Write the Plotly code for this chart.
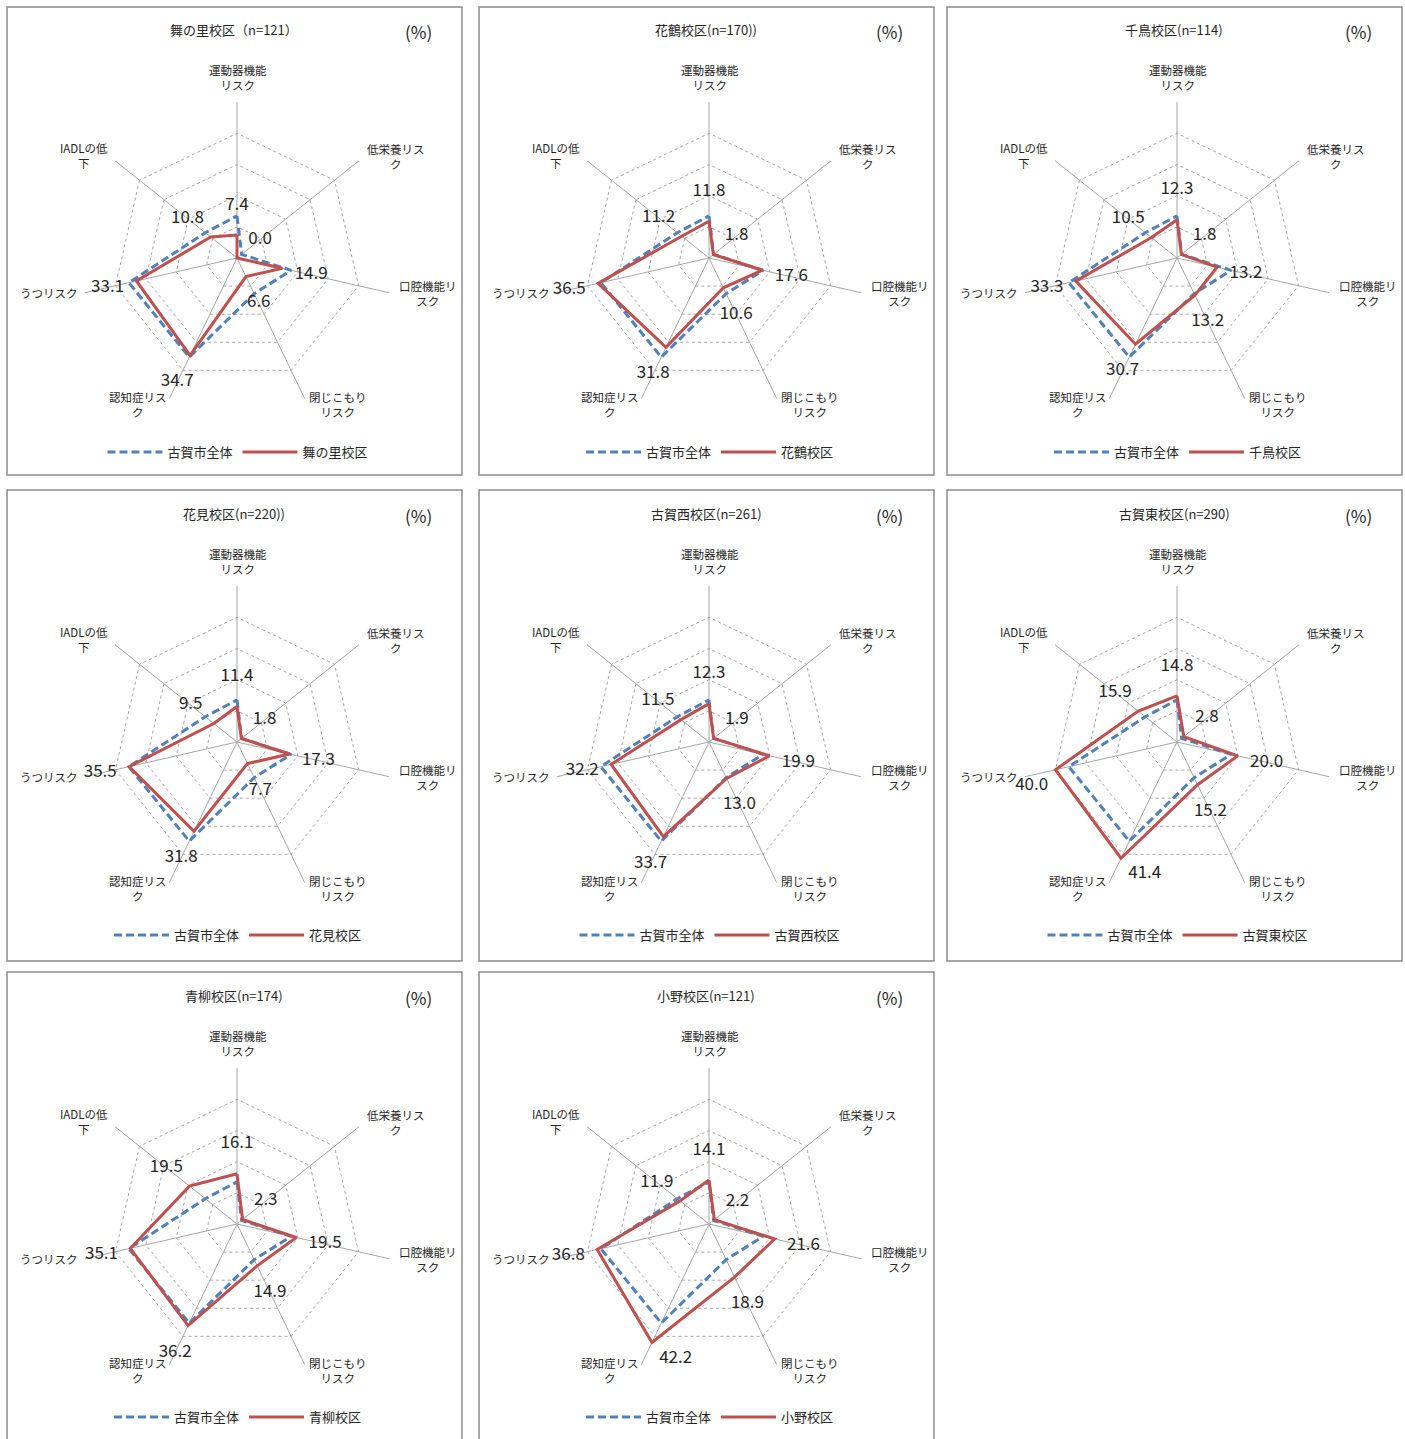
import math
import plotly.graph_objects as go

# ---- data -------------------------------------------------------------
categories = [
    "運動器機能<br>リスク",
    "低栄養リス<br>ク",
    "口腔機能リ<br>スク",
    "閉じこもり<br>リスク",
    "認知症リス<br>ク",
    "うつリスク",
    "IADLの低<br>下",
]

city_name = "古賀市全体"
city_values = [13.5, 1.9, 17.8, 12.7, 35.3, 35.6, 13.0]

district_names = ["舞の里校区", "花鶴校区", "千鳥校区", "花見校区",
                  "古賀西校区", "古賀東校区", "青柳校区", "小野校区"]
district_titles = ["舞の里校区（n=121）", "花鶴校区(n=170))", "千鳥校区(n=114)",
                   "花見校区(n=220))", "古賀西校区(n=261)", "古賀東校区(n=290)",
                   "青柳校区(n=174)", "小野校区(n=121)"]

maizato = [7.4, 0.0, 14.9, 6.6, 34.7, 33.1, 10.8]
kakaku = [11.8, 1.8, 17.6, 10.6, 31.8, 36.5, 11.2]
chidori = [12.3, 1.8, 13.2, 13.2, 30.7, 33.3, 10.5]
hanami = [11.4, 1.8, 17.3, 7.7, 31.8, 35.5, 9.5]
koga_nishi = [12.3, 1.9, 19.9, 13.0, 33.7, 32.2, 11.5]
koga_higashi = [14.8, 2.8, 20.0, 15.2, 41.4, 40.0, 15.9]
aoyagi = [16.1, 2.3, 19.5, 14.9, 36.2, 35.1, 19.5]
ono = [14.1, 2.2, 21.6, 18.9, 42.2, 36.8, 11.9]

district_values = [maizato, kakaku, chidori, hanami,
                   koga_nishi, koga_higashi, aoyagi, ono]

# ---- layout constants ---------------------------------------------------
W, H = 1405, 1439
R_PX = 156                      # radius of the outer ring in pixels
col_centers = [237, 709, 1177]
row_centers = [258, 742, 1224]
col_boxes = [(7, 462), (479, 934), (947, 1402)]
row_boxes = [(7, 475), (490, 961), (972, 1470)]

R_MAX = 50.05
LABEL_PAD = 9.5                 # distance of value labels beyond each point (in %)
VALUE_FONT = 17
CAT_FONT = 11.5

# placement of the spoke names relative to the outer vertex (pixels)
cat_xanchor = ["center", "left", "left", "left", "right", "right", "right"]
cat_yanchor = ["bottom", "middle", "middle", "middle", "middle", "middle", "middle"]
cat_dx = [1, 6, 8, 2, 0, -5, -5]
cat_dy = [-7, -4.5, 1, 5.5, 5.5, 0, -5]

BLUE = "#4F81BD"
RED = "#C0504D"
GRID = "#a6a6a6"
FONT = "Noto Sans CJK JP"
TEXT = "#262626"

N = len(categories)
PX_PER_UNIT = R_PX / R_MAX
X_LIMIT = R_PX * math.sin(math.radians(2 * 360 / N)) + 8
Y_LIMIT = R_PX * math.cos(math.radians(180 / N))


def fx(x):
    return x / W


def fy(y):
    return 1 - y / H


def closed(seq):
    return list(seq) + [seq[0]]


def value_label_layout(vals):
    """Labels sit outward along each spoke; those that would leave the
    plot area are tucked beside their point instead."""
    rs, positions = [], []
    for k, v in enumerate(vals):
        ang = math.radians(90 - k * 360 / N)
        rl = (v + LABEL_PAD) * PX_PER_UNIT
        x = rl * math.cos(ang)
        y = -rl * math.sin(ang)
        txt = f"{v:.1f}"
        half_w = (0.56 * (len(txt) - 1) + 0.27) * VALUE_FONT / 2
        half_h = 0.42 * VALUE_FONT
        if y + half_h > Y_LIMIT:
            rs.append(v)
            positions.append("bottom right")
        elif x - half_w < -X_LIMIT:
            rs.append(v)
            positions.append("bottom left")
        elif x + half_w > X_LIMIT:
            rs.append(v)
            positions.append("bottom right")
        else:
            rs.append(v + LABEL_PAD)
            positions.append("middle center")
    return rs, positions


fig = go.Figure()
layout_extra = {}
annotations = []
shapes = []

for i, (name, title, vals) in enumerate(zip(district_names, district_titles, district_values)):
    row, col = divmod(i, 3)
    cx, cy = col_centers[col], row_centers[row]
    sub = "polar" if i == 0 else f"polar{i + 1}"
    leg = "legend" if i == 0 else f"legend{i + 1}"

    fig.add_trace(go.Scatterpolar(
        r=closed(city_values), theta=closed(categories), mode="lines",
        name=city_name, line=dict(color=BLUE, width=3, dash="8px,4px"),
        subplot=sub, legend=leg, hoverinfo="skip",
    ))
    fig.add_trace(go.Scatterpolar(
        r=closed(vals), theta=closed(categories), mode="lines",
        name=name, line=dict(color=RED, width=3),
        subplot=sub, legend=leg, hoverinfo="skip",
    ))

    # value labels of the district series
    label_r, label_pos = value_label_layout(vals)
    fig.add_trace(go.Scatterpolar(
        r=label_r, theta=categories, mode="markers+text",
        marker=dict(size=10, color="rgba(0,0,0,0)"),
        text=[f"{v:.1f}" for v in vals],
        textfont=dict(family=FONT, size=VALUE_FONT, color=TEXT),
        textposition=label_pos, cliponaxis=False,
        showlegend=False, subplot=sub, hoverinfo="skip",
    ))

    layout_extra[sub] = dict(
        domain=dict(x=[fx(cx - R_PX), fx(cx + R_PX)],
                    y=[fy(cy + R_PX), fy(cy - R_PX)]),
        gridshape="linear",
        bgcolor="rgba(0,0,0,0)",
        radialaxis=dict(
            range=[0, R_MAX], tickvals=[10, 20, 30, 40, 50],
            showticklabels=False, ticks="", showline=False,
            showgrid=True, gridcolor=GRID, gridwidth=1, griddash="3px,3px",
        ),
        angularaxis=dict(
            type="category", categoryorder="array", categoryarray=categories,
            direction="clockwise", rotation=90,
            showline=False, ticks="", showticklabels=False,
            showgrid=True, gridcolor=GRID, gridwidth=1,
        ),
    )

    # spoke names, centred line by line beside each outer vertex
    for k, cat in enumerate(categories):
        a = math.radians(k * 360 / N)
        vx = cx + R_PX * math.sin(a)
        vy = cy - R_PX * math.cos(a)
        annotations.append(dict(
            text=cat, xref="paper", yref="paper",
            x=fx(vx + cat_dx[k]), y=fy(vy + cat_dy[k]),
            xanchor=cat_xanchor[k], yanchor=cat_yanchor[k], align="center",
            showarrow=False, font=dict(family=FONT, size=CAT_FONT, color=TEXT),
        ))

    bx0, bx1 = col_boxes[col]
    by0, by1 = row_boxes[row]
    shapes.append(dict(
        type="rect", xref="paper", yref="paper",
        x0=fx(bx0), x1=fx(bx1), y0=fy(by1), y1=fy(by0),
        line=dict(color="#8c8c8c", width=1.5), fillcolor="rgba(0,0,0,0)",
    ))

    annotations.append(dict(
        text=title, xref="paper", yref="paper", x=fx(cx - 3), y=fy(by0 + 23),
        xanchor="center", yanchor="middle", showarrow=False,
        font=dict(family=FONT, size=13, color=TEXT),
    ))
    annotations.append(dict(
        text="(%)", xref="paper", yref="paper", x=fx(cx + 181), y=fy(by0 + 25),
        xanchor="center", yanchor="middle", showarrow=False,
        font=dict(family=FONT, size=17, color=TEXT),
    ))

    layout_extra[leg] = dict(
        orientation="h", x=fx(cx + 1), y=fy(by0 + 445),
        xanchor="center", yanchor="middle",
        font=dict(family=FONT, size=13, color=TEXT),
        bgcolor="rgba(0,0,0,0)", itemwidth=55,
    )

fig.update_layout(
    width=W, height=H,
    margin=dict(l=0, r=0, t=0, b=0),
    paper_bgcolor="white",
    plot_bgcolor="white",
    font=dict(family=FONT, color=TEXT),
    shapes=shapes,
    annotations=annotations,
    **layout_extra,
)

fig.write_html("out.html")
